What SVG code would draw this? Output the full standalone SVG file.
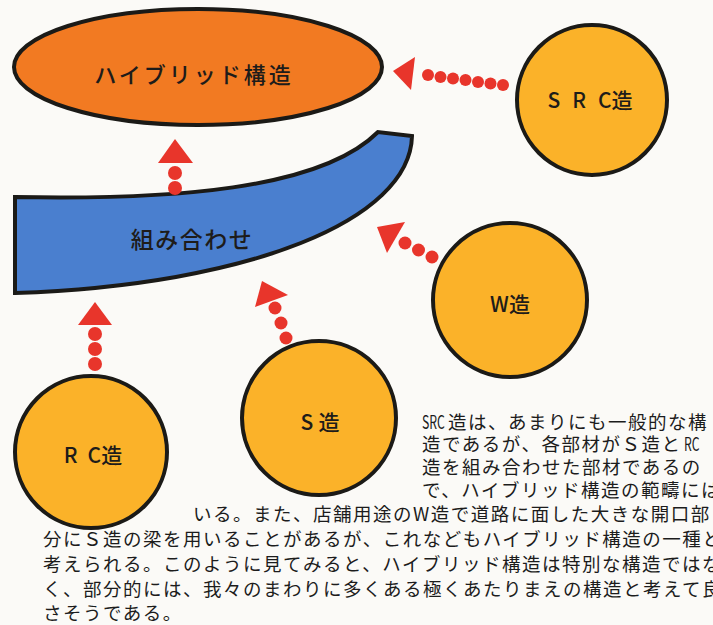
<svg xmlns="http://www.w3.org/2000/svg" width="713" height="625" viewBox="0 0 713 625">
<style>
.node{stroke:#1b1a17;stroke-width:4}
.orange{fill:#f27a22}
.gold{fill:#fbb229}
.blue{fill:#4a7fcf}
.lbl{font-family:"Noto Sans CJK JP","Noto Sans",sans-serif;font-weight:500;fill:#1e1c1a;text-anchor:middle;dominant-baseline:central}
.dot{fill:#e8352b}
.body{font-family:"Noto Sans CJK JP","Noto Sans",sans-serif;font-size:18.5px;letter-spacing:1.5px;fill:#1c1c1c}
.cond{font-size:18px;letter-spacing:0px}
</style>
<rect width="713" height="625" fill="#fbfaf7"/>
<g id="hybrid">
<ellipse class="node orange" cx="198" cy="67" rx="184" ry="58"/>
<text class="lbl" x="194" y="73" font-size="22" letter-spacing="3">ハイブリッド構造</text>
</g>
<g id="kumiawase">
<path class="node blue" d="M15,197 C170,200 320,190 378,132 L412,136 C410,220 250,285 15,293 Z"/>
<text class="lbl" x="192" y="238" font-size="23" letter-spacing="1.5">組み合わせ</text>
</g>
<g id="src">
<circle class="node gold" cx="592" cy="100" r="75"/>
<text class="lbl" x="590" y="99" font-size="21"><tspan letter-spacing="12">SR</tspan>C造</text>
</g>
<g id="w">
<circle class="node gold" cx="510" cy="300" r="77"/>
<text class="lbl" x="510" y="303" font-size="21">W造</text>
</g>
<g id="s">
<circle class="node gold" cx="319" cy="418" r="77"/>
<text class="lbl" x="320" y="421" font-size="21"><tspan letter-spacing="5">S</tspan>造</text>
</g>
<g id="rc">
<circle class="node gold" cx="91" cy="452" r="76"/>
<text class="lbl" x="93" y="454" font-size="21"><tspan letter-spacing="10">R</tspan>C造</text>
</g>
<g id="connectors">
<g id="src-to-hybrid">
<polygon class="dot" points="393,71 415,57 411,90"/>
<circle class="dot" cx="428" cy="75" r="6"/>
<circle class="dot" cx="440.5" cy="77" r="6"/>
<circle class="dot" cx="453" cy="78.5" r="6"/>
<circle class="dot" cx="465.5" cy="80" r="6"/>
<circle class="dot" cx="478" cy="82" r="6"/>
<circle class="dot" cx="490.5" cy="83.5" r="6"/>
<circle class="dot" cx="503" cy="85" r="6"/>
</g>
<g id="kumiawase-to-hybrid">
<polygon class="dot" points="175,139 158,163 193,163"/>
<circle class="dot" cx="175" cy="173" r="7"/>
<circle class="dot" cx="175" cy="188" r="7"/>
</g>
<g id="w-to-kumiawase">
<polygon class="dot" points="377,227 405,222 387,253"/>
<circle class="dot" cx="405" cy="243" r="6.5"/>
<circle class="dot" cx="418.5" cy="250" r="6.5"/>
<circle class="dot" cx="432" cy="257" r="6.5"/>
</g>
<g id="s-to-kumiawase">
<polygon class="dot" points="262,281 255,307 288,295"/>
<circle class="dot" cx="275" cy="308" r="6.5"/>
<circle class="dot" cx="281" cy="323" r="6.5"/>
<circle class="dot" cx="286" cy="338" r="6.5"/>
</g>
<g id="rc-to-kumiawase">
<polygon class="dot" points="95,302 78,325 112,325"/>
<circle class="dot" cx="95" cy="334" r="7"/>
<circle class="dot" cx="95" cy="349" r="7"/>
<circle class="dot" cx="95" cy="364" r="7"/>
</g>
</g>
<g id="caption" class="body">
<text class="cond" transform="translate(422,429) scale(0.68,1)">SRC</text>
<text x="448" y="429">造は、あまりにも一般的な構</text>
<text x="422" y="451">造であるが、各部材がＳ造と</text>
<text class="cond" transform="translate(684,451) scale(0.68,1)">RC</text>
<text x="422" y="474">造を組み合わせた部材であるの</text>
<text x="422" y="497">で、ハイブリッド構造の範疇には</text>
<text x="193" y="521">いる。また、店舗用途のW造で道路に面した大きな開口部</text>
<text x="43" y="546">分にＳ造の梁を用いることがあるが、これなどもハイブリッド構造の一種と</text>
<text x="43" y="571">考えられる。このように見てみると、ハイブリッド構造は特別な構造ではな</text>
<text x="43" y="596">く、部分的には、我々のまわりに多くある極くあたりまえの構造と考えて良</text>
<text x="43" y="620">さそうである。</text>
</g>
</svg>
